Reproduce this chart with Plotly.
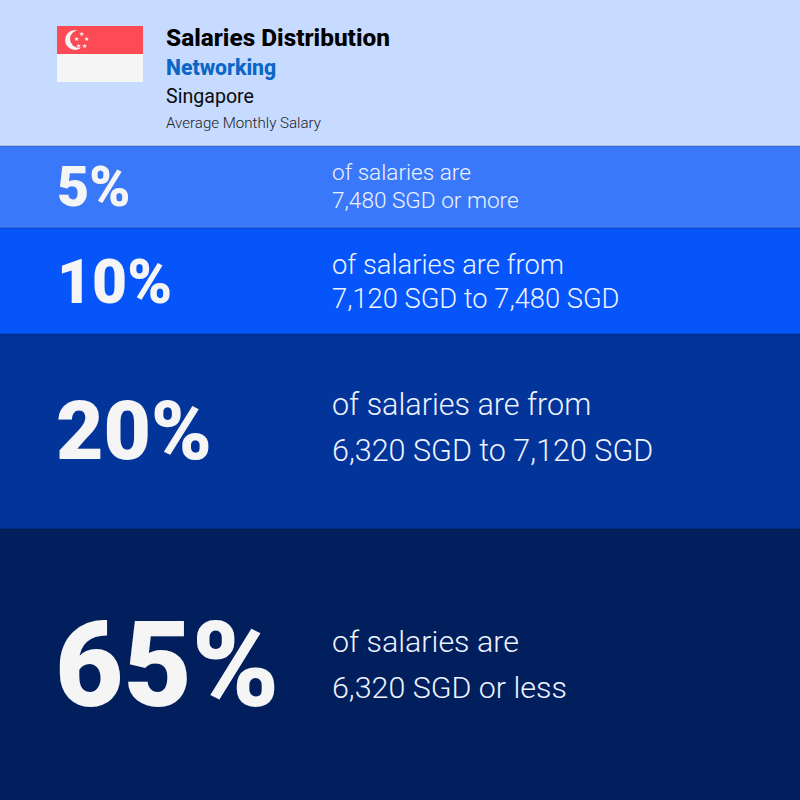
import plotly.graph_objects as go

# band thickness, top to bottom
bands = ["header", "5%", "10%", "20%", "65%"]
band_sizes = [146, 82, 106, 195, 271]
band_colors = ["#c7daff", "#3a78fa", "#0655fb", "#03349a", "#001f5c"]

percents = ["5%", "10%", "20%", "65%"]
percent_sizes = [55.5, 60.5, 82, 118]
percent_y = [187, 282, 431, 666]
percent_x = [55, 55, 54, 53]

line1 = ["of salaries are", "of salaries are from", "of salaries are from", "of salaries are"]
line2 = ["7,480 SGD or more", "7,120 SGD to 7,480 SGD", "6,320 SGD to 7,120 SGD", "6,320 SGD or less"]
line_sizes = [22.6, 27.3, 30.5, 30.4]
line1_y = [172, 265, 404, 641]
line2_y = [200, 299, 450, 687]

header_text = ["Salaries Distribution", "Networking", "Singapore", "Average Monthly Salary"]
header_y = [37, 67, 96, 123]
header_sizes = [24.4, 21.2, 19.6, 15.1]
header_colors = ["#000000", "#0b66c4", "#0a0a0a", "#222222"]
header_weights = [800, 800, 400, 300]

star_x = [81, 76, 86, 78, 84]
star_y = [33, 38, 38, 45, 45]

fig = go.Figure()

for i in range(len(bands)):
    fig.add_trace(go.Bar(x=[400], y=[band_sizes[i]], width=800, name=bands[i],
                         marker=dict(color=band_colors[i], line=dict(width=0))))

# thin shadow where one band meets the next
edge = 0
for size in band_sizes[:-1]:
    edge += size
    fig.add_shape(type="line", x0=0, x1=800, y0=edge, y1=edge, line=dict(color="rgba(0,0,0,0.12)", width=2))

# flag
fig.add_shape(type="rect", x0=57, x1=143, y0=26, y1=54, fillcolor="#fd4a55", line_width=0)
fig.add_shape(type="rect", x0=57, x1=143, y0=54, y1=82, fillcolor="#f5f5f5", line_width=0)
fig.add_shape(type="circle", x0=65, x1=85, y0=30, y1=50, fillcolor="#f5f5f5", line_width=0)
fig.add_shape(type="circle", x0=70, x1=88, y0=30, y1=48, fillcolor="#fd4a55", line_width=0)
for i in range(len(star_x)):
    fig.add_annotation(x=star_x[i], y=star_y[i], text="★", showarrow=False,
                       font=dict(family="DejaVu Sans", size=6, color="#f5f5f5"))

for i in range(len(header_text)):
    fig.add_annotation(x=164, y=header_y[i], text=header_text[i], showarrow=False, xanchor="left",
                       yanchor="middle", font=dict(family="Roboto", size=header_sizes[i],
                                                   color=header_colors[i], weight=header_weights[i]))

for i in range(len(percents)):
    fig.add_annotation(x=percent_x[i], y=percent_y[i], text=percents[i], showarrow=False, xanchor="left",
                       yanchor="middle", font=dict(family="Roboto", size=percent_sizes[i],
                                                   color="#f5f5f5", weight=900))
    fig.add_annotation(x=329.5, y=line1_y[i], text=line1[i], showarrow=False, xanchor="left",
                       yanchor="middle", font=dict(family="Roboto", size=line_sizes[i],
                                                   color="#eef3ff", weight=300))
    fig.add_annotation(x=329.5, y=line2_y[i], text=line2[i], showarrow=False, xanchor="left",
                       yanchor="middle", font=dict(family="Roboto", size=line_sizes[i],
                                                   color="#eef3ff", weight=300))

fig.update_layout(width=800, height=800, margin=dict(l=0, r=0, t=0, b=0), barmode="stack",
                  showlegend=False, paper_bgcolor="#c7daff", plot_bgcolor="#c7daff")
fig.update_xaxes(range=[0, 800], visible=False, fixedrange=True)
fig.update_yaxes(range=[800, 0], visible=False, fixedrange=True)

fig.write_html("out.html", config=dict(displayModeBar=False),
               post_script="document.body.style.margin='0';document.body.style.overflow='hidden';")
